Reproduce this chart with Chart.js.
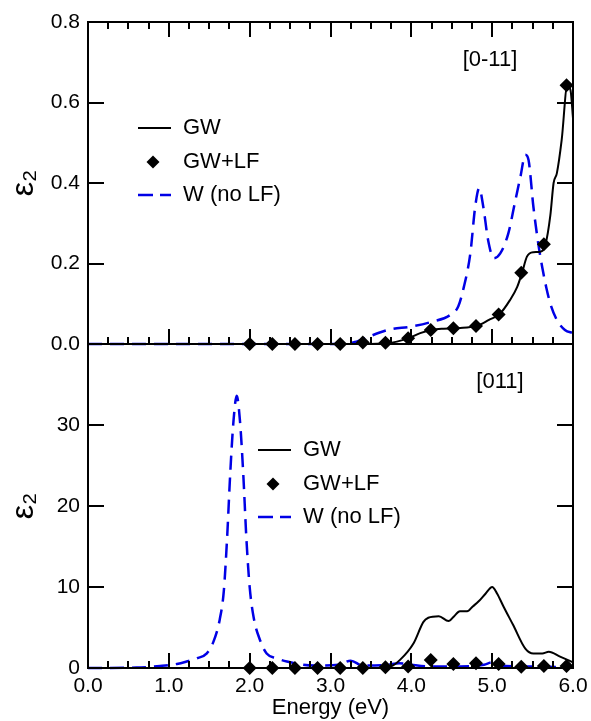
<!DOCTYPE html>
<html>
<head>
<meta charset="utf-8">
<script src="https://cdn.jsdelivr.net/npm/chart.js@4/dist/chart.umd.min.js"></script>
<style>
  html, body { margin: 0; padding: 0; background: #fff; }
  #plot { display: block; }
</style>
</head>
<body>
<canvas id="plot" width="591" height="721"></canvas>
<script>
// ===================================
// DATA
// ===================================

// GW+LF markers share the same energies in both panels
const lfEnergy = [2.00, 2.28, 2.56, 2.84, 3.12, 3.40, 3.68, 3.96, 4.24, 4.52, 4.80, 5.08, 5.36, 5.64, 5.92];
const lfTop    = [0, 0, 0, 0, 0, 0.004, 0.003, 0.014, 0.035, 0.039, 0.045, 0.073, 0.177, 0.248, 0.643];
const lfBottom = [0, 0, 0, 0, 0, 0, 0.1, 0.2, 1.0, 0.5, 0.6, 0.5, 0.15, 0.25, 0.25];

// [0-11] panel
const gwTopEnergy = [0, 3.40, 3.70, 3.96, 4.11, 4.25, 4.40, 4.53, 4.69, 4.81, 4.96, 5.09, 5.22, 5.31, 5.37, 5.43, 5.51, 5.59, 5.66, 5.72, 5.76, 5.80, 5.86, 5.93, 5.97, 6.0];
const gwTopValues = [0, 0, 0.002, 0.014, 0.027, 0.035, 0.038, 0.039, 0.041, 0.045, 0.060, 0.074, 0.109, 0.142, 0.177, 0.217, 0.228, 0.229, 0.248, 0.320, 0.400, 0.424, 0.507, 0.643, 0.630, 0.561];

const wTopEnergy = [0, 3.15, 3.30, 3.45, 3.60, 3.75, 3.99, 4.25, 4.48, 4.58, 4.65, 4.73, 4.79, 4.84, 4.89, 4.95, 5.02, 5.10, 5.20, 5.28, 5.35, 5.41, 5.45, 5.51, 5.57, 5.62, 5.67, 5.72, 5.80, 5.90, 6.0];
const wTopValues = [0, 0, 0.005, 0.016, 0.028, 0.037, 0.043, 0.055, 0.072, 0.093, 0.142, 0.225, 0.341, 0.387, 0.341, 0.258, 0.213, 0.225, 0.275, 0.350, 0.416, 0.470, 0.457, 0.341, 0.250, 0.190, 0.140, 0.100, 0.060, 0.035, 0.027];

// [011] panel
const gwBotEnergy = [0, 3.60, 3.75, 3.86, 4.03, 4.15, 4.21, 4.34, 4.46, 4.53, 4.60, 4.69, 4.76, 4.83, 4.92, 5.00, 5.06, 5.14, 5.26, 5.41, 5.51, 5.62, 5.70, 5.84, 6.0];
const gwBotValues = [0, 0, 0.2, 1.0, 3.1, 5.7, 6.2, 6.4, 5.8, 6.4, 7.0, 7.0, 7.6, 8.2, 9.2, 10.0, 9.2, 7.6, 5.3, 2.4, 1.8, 1.8, 2.0, 1.4, 0.7];

const wBotEnergy = [0, 0.60, 0.89, 1.10, 1.22, 1.35, 1.47, 1.55, 1.63, 1.68, 1.72, 1.76, 1.80, 1.84, 1.88, 1.92, 1.96, 2.00, 2.05, 2.13, 2.21, 2.33, 2.46, 2.80, 3.10, 3.25, 3.40, 3.70, 3.85, 4.00, 4.20, 4.60, 4.90, 5.00, 5.10, 5.40, 6.0];
const wBotValues = [0, 0.05, 0.25, 0.5, 0.8, 1.2, 1.8, 3.2, 6.0, 9.5, 15.9, 24.1, 30.5, 33.6, 30.5, 24.1, 15.9, 10.0, 6.2, 3.4, 1.8, 1.2, 0.8, 0.3, 0.4, 0.9, 0.3, 0.4, 0.6, 0.4, 0.2, 0.2, 0.4, 0.7, 0.3, 0.2, 0.1];

const seriesNames = ['GW', 'GW+LF', 'W (no LF)'];
const panelNames = ['[0-11]', '[011]'];

// ===================================
// HELPERS
// ===================================

const FONT = "'Liberation Sans', Arial, sans-serif";
const BLUE = '#0000e6';

function pts(xs, ys) {
    return xs.map((x, i) => ({ x: x, y: ys[i] }));
}

function lfSet(values, axis) {
    return {
        label: seriesNames[1], data: pts(lfEnergy, values), yAxisID: axis,
        showLine: false, pointStyle: 'rectRot', pointRadius: 7,
        backgroundColor: '#000', borderColor: '#000', borderWidth: 0, clip: false
    };
}

function gwSet(xs, ys, axis) {
    return {
        label: seriesNames[0], data: pts(xs, ys), yAxisID: axis,
        borderColor: '#000', borderWidth: 2, pointRadius: 0,
        cubicInterpolationMode: 'monotone', clip: false
    };
}

function wSet(xs, ys, axis) {
    return {
        label: seriesNames[2], data: pts(xs, ys), yAxisID: axis,
        borderColor: BLUE, borderWidth: 2.5, borderDash: [14, 8], pointRadius: 0,
        cubicInterpolationMode: 'monotone', clip: false
    };
}

// frame + inward ticks for both panels
const framePlugin = {
    id: 'frame',
    afterDraw(chart) {
        const ctx = chart.ctx;
        const xs = chart.scales.x;
        const left = Math.round(xs.left), right = Math.round(xs.right);
        ctx.save();
        ctx.fillStyle = '#000';
        ['yTop', 'yBot'].forEach(id => {
            const ys = chart.scales[id];
            const top = Math.round(ys.top), bottom = Math.round(ys.bottom);
            // box
            ctx.fillRect(left - 1, top - 1, right - left + 2, 2);
            ctx.fillRect(left - 1, bottom - 1, right - left + 2, 2);
            ctx.fillRect(left - 1, top - 1, 2, bottom - top + 2);
            ctx.fillRect(right - 1, top - 1, 2, bottom - top + 2);
            // x ticks, every 0.25 eV, longer on whole eV
            for (let k = 1; k < 24; k++) {
                const px = Math.round(xs.getPixelForValue(k * 0.25));
                const len = k % 4 === 0 ? 15 : 7;
                ctx.fillRect(px - 1, bottom - len, 2, len);
                if (id === 'yTop') ctx.fillRect(px - 1, top, 2, len);
            }
            // y ticks, both sides
            ys.ticks.forEach(t => {
                const py = Math.round(ys.getPixelForValue(t.value));
                ctx.fillRect(left, py - 1, 16, 2);
                ctx.fillRect(right - 16, py - 1, 16, 2);
            });
        });
        ctx.restore();
    }
};

// legends and panel labels
const legendPlugin = {
    id: 'panelLegend',
    afterDraw(chart) {
        const ctx = chart.ctx;
        const xs = chart.scales.x;
        const panels = [
            { ys: chart.scales.yTop, x0: xs.left + 50, lx: 490, name: panelNames[0] },
            { ys: chart.scales.yBot, x0: xs.left + 170, lx: 500, name: panelNames[1] }
        ];
        ctx.save();
        ctx.font = '22px ' + FONT;
        ctx.fillStyle = '#000';
        ctx.textBaseline = 'middle';
        panels.forEach(p => {
            const rows = [p.ys.top + 106, p.ys.top + 140, p.ys.top + 173];
            // GW
            ctx.strokeStyle = '#000';
            ctx.lineWidth = 2;
            ctx.setLineDash([]);
            ctx.beginPath();
            ctx.moveTo(p.x0, rows[0]);
            ctx.lineTo(p.x0 + 33, rows[0]);
            ctx.stroke();
            // GW+LF
            const cx = p.x0 + 15, cy = rows[1], r = 6.5;
            ctx.beginPath();
            ctx.moveTo(cx, cy - r);
            ctx.lineTo(cx + r, cy);
            ctx.lineTo(cx, cy + r);
            ctx.lineTo(cx - r, cy);
            ctx.closePath();
            ctx.fill();
            // W (no LF)
            ctx.strokeStyle = BLUE;
            ctx.lineWidth = 2.5;
            ctx.setLineDash([15, 7]);
            ctx.beginPath();
            ctx.moveTo(p.x0, rows[2]);
            ctx.lineTo(p.x0 + 33, rows[2]);
            ctx.stroke();
            ctx.setLineDash([]);

            ctx.textAlign = 'left';
            seriesNames.forEach((s, i) => ctx.fillText(s, p.x0 + 45, rows[i]));

            ctx.textAlign = 'center';
            ctx.fillText(p.name, p.lx, p.ys.top + 38);
        });
        ctx.restore();
    }
};

// ===================================
// CHART
// ===================================

const yTitle = {
    display: true, text: 'ε₂', color: '#000',
    font: { family: FONT, size: 32 }, padding: { top: 5, bottom: 0 }
};

const tickFont = { family: FONT, size: 21 };

new Chart(document.getElementById('plot'), {
    type: 'line',
    data: {
        datasets: [
            lfSet(lfTop, 'yTop'),
            gwSet(gwTopEnergy, gwTopValues, 'yTop'),
            wSet(wTopEnergy, wTopValues, 'yTop'),
            lfSet(lfBottom, 'yBot'),
            gwSet(gwBotEnergy, gwBotValues, 'yBot'),
            wSet(wBotEnergy, wBotValues, 'yBot')
        ]
    },
    options: {
        responsive: false,
        animation: false,
        devicePixelRatio: 1,
        layout: { padding: { top: 22, right: 18, bottom: 0, left: 0 } },
        plugins: { legend: { display: false }, tooltip: { enabled: false } },
        scales: {
            x: {
                type: 'linear', min: 0, max: 6,
                grid: { display: false, drawTicks: false }, border: { display: false },
                ticks: { stepSize: 1, color: '#000', font: tickFont, padding: 6, maxRotation: 0,
                         callback: v => v.toFixed(1) },
                title: { display: true, text: 'Energy (eV)', color: '#000',
                         font: { family: FONT, size: 22 }, padding: { top: 0, bottom: 0 } },
                afterFit: s => { s.height = 53; s.paddingLeft = 0; s.paddingRight = 0; }
            },
            yTop: {
                type: 'linear', position: 'left', stack: 'panels', stackWeight: 322, weight: 1,
                min: 0, max: 0.8,
                grid: { display: false, drawTicks: false }, border: { display: false },
                ticks: { stepSize: 0.2, color: '#000', font: tickFont, padding: 8,
                         callback: v => v.toFixed(1) },
                title: yTitle,
                afterFit: s => { s.width = 88; }
            },
            yBot: {
                type: 'linear', position: 'left', stack: 'panels', stackWeight: 324, weight: 0,
                min: 0, max: 40,
                grid: { display: false, drawTicks: false }, border: { display: false },
                ticks: { stepSize: 10, color: '#000', font: tickFont, padding: 8,
                         callback: v => (v === 40 ? '' : String(v)) },
                title: yTitle,
                afterFit: s => { s.width = 88; }
            }
        }
    },
    plugins: [framePlugin, legendPlugin]
});
</script>
</body>
</html>
